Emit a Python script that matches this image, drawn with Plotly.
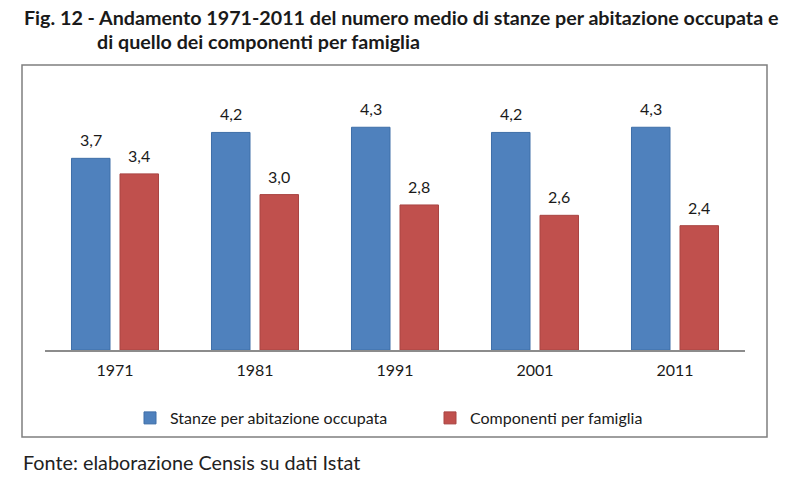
import plotly.graph_objects as go

years = ["1971", "1981", "1991", "2001", "2011"]
stanze = [3.7, 4.2, 4.3, 4.2, 4.3]
componenti = [3.4, 3.0, 2.8, 2.6, 2.4]
name_stanze = "Stanze per abitazione occupata"
name_comp = "Componenti per famiglia"
title_line1 = "Fig. 12 - Andamento 1971-2011 del numero medio di stanze per abitazione occupata e"
title_line2 = "di quello dei componenti per famiglia"
source = "Fonte: elaborazione Censis su dati Istat"

FONT = "Lato"
BLUE = "#4F81BD"
RED = "#C0504D"
PAGE_OFF = 8  # default body margin of the html page

fig = go.Figure()
fig.add_trace(go.Bar(x=years, y=stanze, name=name_stanze,
                     marker=dict(color=BLUE, line=dict(color="#3F6FA8", width=1))))
fig.add_trace(go.Bar(x=years, y=componenti, name=name_comp,
                     marker=dict(color=RED, line=dict(color="#A94442", width=1))))

annotations = []
for series, shift in ((stanze, -24.3), (componenti, 24.3)):
    for i, v in enumerate(series):
        annotations.append(dict(x=i, y=v, xref="x", yref="y", xshift=shift, yshift=7,
                                text=f"{v:.1f}".replace(".", ","), showarrow=False,
                                yanchor="bottom", font=dict(family=FONT, size=16, color="#1a1a1a")))

annotations += [
    dict(text="<b>" + title_line1 + "</b>", xref="paper", yref="paper",
         x=(22 - 45) / 700, y=(350 - 18) / 259, xanchor="left", yanchor="middle",
         showarrow=False, font=dict(family=FONT, size=19.7, color="#1a1a1a")),
    dict(text="<b>" + title_line2 + "</b>", xref="paper", yref="paper",
         x=(95 - 45) / 700, y=(350 - 42) / 259, xanchor="left", yanchor="middle",
         showarrow=False, font=dict(family=FONT, size=19.7, color="#1a1a1a")),
    dict(text=source, xref="paper", yref="paper",
         x=(21 - 45) / 700, y=(350 - 462) / 259, xanchor="left", yanchor="middle",
         showarrow=False, font=dict(family=FONT, size=19.8, color="#222222")),
]

fig.update_layout(
    width=800, height=484,
    margin=dict(l=45 - PAGE_OFF, r=55 + PAGE_OFF, t=91 - PAGE_OFF, b=134 + PAGE_OFF, autoexpand=False),
    paper_bgcolor="white", plot_bgcolor="white",
    barmode="group", bargap=0.307, bargroupgap=0.206,
    showlegend=True,
    legend=dict(orientation="h", xref="paper", yref="container",
                x=(130 - 45) / 700, y=1 - (418 - PAGE_OFF) / 484, xanchor="left", yanchor="middle",
                font=dict(family=FONT, size=16, color="#1a1a1a"),
                entrywidth=255, itemwidth=30, bgcolor="rgba(0,0,0,0)"),
    annotations=annotations,
    shapes=[dict(type="rect", xref="paper", yref="paper",
                 x0=(22 - 45) / 700, x1=(767 - 45) / 700,
                 y0=(350 - 437) / 259, y1=(350 - 65) / 259,
                 line=dict(color="#7f7f7f", width=1.5), layer="below")],
    xaxis=dict(type="category", range=[-0.5, len(years) - 0.5], showline=True,
               linecolor="#8c8c8c", linewidth=2, ticks="",
               ticklabelstandoff=5, tickfont=dict(family=FONT, size=16, color="#1a1a1a"),
               showgrid=False, zeroline=False, automargin=False),
    yaxis=dict(range=[0, 5], visible=False, showgrid=False, zeroline=False, automargin=False),
)

fig.write_html("out.html")
